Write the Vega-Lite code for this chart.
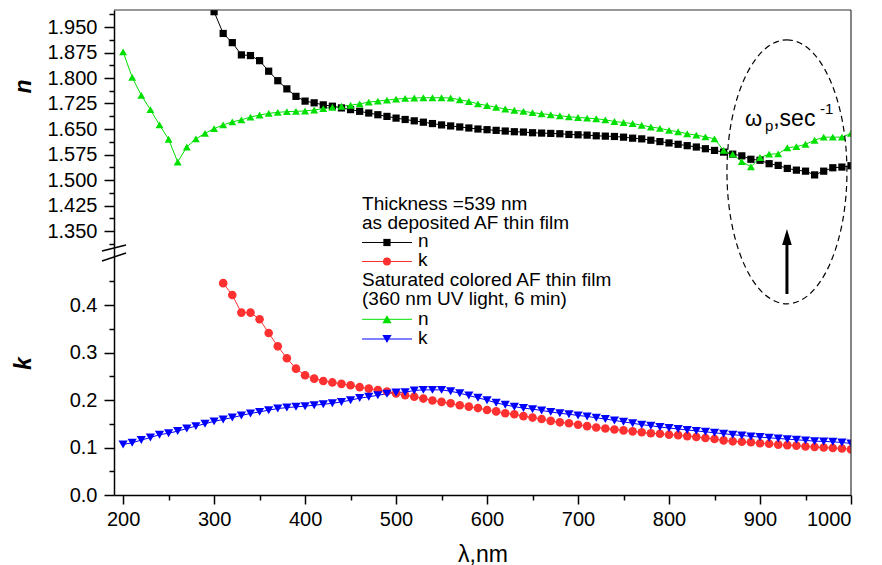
{
"$schema": "https://vega.github.io/schema/vega-lite/v6.json",
"background": "white",
"padding": {"left": 12, "top": 9, "right": 8, "bottom": 2},
"config": {
  "view": {"stroke": null},
  "axis": {"labelFont": "Liberation Sans", "titleFont": "Liberation Sans", "domainColor": "black", "tickColor": "black", "labelColor": "black", "titleColor": "black", "grid": false, "domainWidth": 1.5, "tickWidth": 1.5, "labelFontWeight": "normal"},
  "text": {"font": "Liberation Sans", "color": "black"}
},
"data": {"values": [
{"wl":300,"v":1.995,"s":"n_dep"},{"wl":310,"v":1.931,"s":"n_dep"},{"wl":320,"v":1.904,"s":"n_dep"},{"wl":330,"v":1.868,"s":"n_dep"},{"wl":340,"v":1.866,"s":"n_dep"},{"wl":350,"v":1.851,"s":"n_dep"},{"wl":360,"v":1.820,"s":"n_dep"},{"wl":370,"v":1.792,"s":"n_dep"},{"wl":380,"v":1.768,"s":"n_dep"},{"wl":390,"v":1.746,"s":"n_dep"},
{"wl":400,"v":1.732,"s":"n_dep"},{"wl":410,"v":1.727,"s":"n_dep"},{"wl":420,"v":1.721,"s":"n_dep"},{"wl":430,"v":1.717,"s":"n_dep"},{"wl":440,"v":1.712,"s":"n_dep"},{"wl":450,"v":1.707,"s":"n_dep"},{"wl":460,"v":1.702,"s":"n_dep"},{"wl":470,"v":1.697,"s":"n_dep"},{"wl":480,"v":1.692,"s":"n_dep"},{"wl":490,"v":1.687,"s":"n_dep"},
{"wl":500,"v":1.682,"s":"n_dep"},{"wl":510,"v":1.678,"s":"n_dep"},{"wl":520,"v":1.674,"s":"n_dep"},{"wl":530,"v":1.670,"s":"n_dep"},{"wl":540,"v":1.666,"s":"n_dep"},{"wl":550,"v":1.662,"s":"n_dep"},{"wl":560,"v":1.659,"s":"n_dep"},{"wl":570,"v":1.656,"s":"n_dep"},{"wl":580,"v":1.653,"s":"n_dep"},{"wl":590,"v":1.650,"s":"n_dep"},
{"wl":600,"v":1.648,"s":"n_dep"},{"wl":610,"v":1.646,"s":"n_dep"},{"wl":620,"v":1.644,"s":"n_dep"},{"wl":630,"v":1.642,"s":"n_dep"},{"wl":640,"v":1.641,"s":"n_dep"},{"wl":650,"v":1.639,"s":"n_dep"},{"wl":660,"v":1.638,"s":"n_dep"},{"wl":670,"v":1.637,"s":"n_dep"},{"wl":680,"v":1.636,"s":"n_dep"},{"wl":690,"v":1.634,"s":"n_dep"},
{"wl":700,"v":1.633,"s":"n_dep"},{"wl":710,"v":1.632,"s":"n_dep"},{"wl":720,"v":1.630,"s":"n_dep"},{"wl":730,"v":1.629,"s":"n_dep"},{"wl":740,"v":1.628,"s":"n_dep"},{"wl":750,"v":1.626,"s":"n_dep"},{"wl":760,"v":1.623,"s":"n_dep"},{"wl":770,"v":1.621,"s":"n_dep"},{"wl":780,"v":1.617,"s":"n_dep"},{"wl":790,"v":1.613,"s":"n_dep"},
{"wl":800,"v":1.609,"s":"n_dep"},{"wl":810,"v":1.605,"s":"n_dep"},{"wl":820,"v":1.601,"s":"n_dep"},{"wl":830,"v":1.597,"s":"n_dep"},{"wl":840,"v":1.592,"s":"n_dep"},{"wl":850,"v":1.587,"s":"n_dep"},{"wl":860,"v":1.582,"s":"n_dep"},{"wl":870,"v":1.576,"s":"n_dep"},{"wl":880,"v":1.571,"s":"n_dep"},{"wl":890,"v":1.561,"s":"n_dep"},
{"wl":900,"v":1.558,"s":"n_dep"},{"wl":910,"v":1.548,"s":"n_dep"},{"wl":920,"v":1.543,"s":"n_dep"},{"wl":930,"v":1.534,"s":"n_dep"},{"wl":940,"v":1.529,"s":"n_dep"},{"wl":950,"v":1.526,"s":"n_dep"},{"wl":960,"v":1.515,"s":"n_dep"},{"wl":970,"v":1.526,"s":"n_dep"},{"wl":980,"v":1.536,"s":"n_dep"},{"wl":990,"v":1.538,"s":"n_dep"},{"wl":1000,"v":1.542,"s":"n_dep"},

{"wl":200,"v":1.877,"s":"n_sat"},{"wl":210,"v":1.802,"s":"n_sat"},{"wl":220,"v":1.749,"s":"n_sat"},{"wl":230,"v":1.707,"s":"n_sat"},{"wl":240,"v":1.662,"s":"n_sat"},{"wl":250,"v":1.620,"s":"n_sat"},{"wl":260,"v":1.553,"s":"n_sat"},{"wl":270,"v":1.597,"s":"n_sat"},{"wl":280,"v":1.621,"s":"n_sat"},{"wl":290,"v":1.637,"s":"n_sat"},
{"wl":300,"v":1.651,"s":"n_sat"},{"wl":310,"v":1.662,"s":"n_sat"},{"wl":320,"v":1.671,"s":"n_sat"},{"wl":330,"v":1.677,"s":"n_sat"},{"wl":340,"v":1.685,"s":"n_sat"},{"wl":350,"v":1.691,"s":"n_sat"},{"wl":360,"v":1.696,"s":"n_sat"},{"wl":370,"v":1.699,"s":"n_sat"},{"wl":380,"v":1.701,"s":"n_sat"},{"wl":390,"v":1.702,"s":"n_sat"},
{"wl":400,"v":1.703,"s":"n_sat"},{"wl":410,"v":1.706,"s":"n_sat"},{"wl":420,"v":1.710,"s":"n_sat"},{"wl":430,"v":1.714,"s":"n_sat"},{"wl":440,"v":1.717,"s":"n_sat"},{"wl":450,"v":1.720,"s":"n_sat"},{"wl":460,"v":1.724,"s":"n_sat"},{"wl":470,"v":1.729,"s":"n_sat"},{"wl":480,"v":1.732,"s":"n_sat"},{"wl":490,"v":1.735,"s":"n_sat"},
{"wl":500,"v":1.738,"s":"n_sat"},{"wl":510,"v":1.740,"s":"n_sat"},{"wl":520,"v":1.741,"s":"n_sat"},{"wl":530,"v":1.742,"s":"n_sat"},{"wl":540,"v":1.742,"s":"n_sat"},{"wl":550,"v":1.742,"s":"n_sat"},{"wl":560,"v":1.741,"s":"n_sat"},{"wl":570,"v":1.736,"s":"n_sat"},{"wl":580,"v":1.731,"s":"n_sat"},{"wl":590,"v":1.724,"s":"n_sat"},
{"wl":600,"v":1.719,"s":"n_sat"},{"wl":610,"v":1.714,"s":"n_sat"},{"wl":620,"v":1.709,"s":"n_sat"},{"wl":630,"v":1.705,"s":"n_sat"},{"wl":640,"v":1.702,"s":"n_sat"},{"wl":650,"v":1.698,"s":"n_sat"},{"wl":660,"v":1.695,"s":"n_sat"},{"wl":670,"v":1.692,"s":"n_sat"},{"wl":680,"v":1.689,"s":"n_sat"},{"wl":690,"v":1.686,"s":"n_sat"},
{"wl":700,"v":1.684,"s":"n_sat"},{"wl":710,"v":1.682,"s":"n_sat"},{"wl":720,"v":1.680,"s":"n_sat"},{"wl":730,"v":1.677,"s":"n_sat"},{"wl":740,"v":1.672,"s":"n_sat"},{"wl":750,"v":1.669,"s":"n_sat"},{"wl":760,"v":1.666,"s":"n_sat"},{"wl":770,"v":1.661,"s":"n_sat"},{"wl":780,"v":1.656,"s":"n_sat"},{"wl":790,"v":1.652,"s":"n_sat"},
{"wl":800,"v":1.646,"s":"n_sat"},{"wl":810,"v":1.642,"s":"n_sat"},{"wl":820,"v":1.636,"s":"n_sat"},{"wl":830,"v":1.632,"s":"n_sat"},{"wl":840,"v":1.627,"s":"n_sat"},{"wl":850,"v":1.621,"s":"n_sat"},{"wl":860,"v":1.587,"s":"n_sat"},{"wl":870,"v":1.576,"s":"n_sat"},{"wl":880,"v":1.554,"s":"n_sat"},{"wl":890,"v":1.539,"s":"n_sat"},
{"wl":900,"v":1.566,"s":"n_sat"},{"wl":910,"v":1.576,"s":"n_sat"},{"wl":920,"v":1.577,"s":"n_sat"},{"wl":930,"v":1.595,"s":"n_sat"},{"wl":940,"v":1.598,"s":"n_sat"},{"wl":950,"v":1.605,"s":"n_sat"},{"wl":960,"v":1.617,"s":"n_sat"},{"wl":970,"v":1.626,"s":"n_sat"},{"wl":980,"v":1.626,"s":"n_sat"},{"wl":990,"v":1.626,"s":"n_sat"},{"wl":1000,"v":1.637,"s":"n_sat"},

{"wl":310,"v":0.446,"s":"k_dep"},{"wl":320,"v":0.421,"s":"k_dep"},{"wl":330,"v":0.384,"s":"k_dep"},{"wl":340,"v":0.384,"s":"k_dep"},{"wl":350,"v":0.370,"s":"k_dep"},{"wl":360,"v":0.341,"s":"k_dep"},{"wl":370,"v":0.313,"s":"k_dep"},{"wl":380,"v":0.288,"s":"k_dep"},{"wl":390,"v":0.266,"s":"k_dep"},
{"wl":400,"v":0.252,"s":"k_dep"},{"wl":410,"v":0.245,"s":"k_dep"},{"wl":420,"v":0.240,"s":"k_dep"},{"wl":430,"v":0.237,"s":"k_dep"},{"wl":440,"v":0.234,"s":"k_dep"},{"wl":450,"v":0.231,"s":"k_dep"},{"wl":460,"v":0.227,"s":"k_dep"},{"wl":470,"v":0.224,"s":"k_dep"},{"wl":480,"v":0.221,"s":"k_dep"},{"wl":490,"v":0.218,"s":"k_dep"},
{"wl":500,"v":0.214,"s":"k_dep"},{"wl":510,"v":0.210,"s":"k_dep"},{"wl":520,"v":0.207,"s":"k_dep"},{"wl":530,"v":0.203,"s":"k_dep"},{"wl":540,"v":0.199,"s":"k_dep"},{"wl":550,"v":0.196,"s":"k_dep"},{"wl":560,"v":0.193,"s":"k_dep"},{"wl":570,"v":0.189,"s":"k_dep"},{"wl":580,"v":0.186,"s":"k_dep"},{"wl":590,"v":0.183,"s":"k_dep"},
{"wl":600,"v":0.179,"s":"k_dep"},{"wl":610,"v":0.176,"s":"k_dep"},{"wl":620,"v":0.172,"s":"k_dep"},{"wl":630,"v":0.170,"s":"k_dep"},{"wl":640,"v":0.166,"s":"k_dep"},{"wl":650,"v":0.163,"s":"k_dep"},{"wl":660,"v":0.160,"s":"k_dep"},{"wl":670,"v":0.156,"s":"k_dep"},{"wl":680,"v":0.153,"s":"k_dep"},{"wl":690,"v":0.151,"s":"k_dep"},
{"wl":700,"v":0.148,"s":"k_dep"},{"wl":710,"v":0.145,"s":"k_dep"},{"wl":720,"v":0.142,"s":"k_dep"},{"wl":730,"v":0.140,"s":"k_dep"},{"wl":740,"v":0.138,"s":"k_dep"},{"wl":750,"v":0.136,"s":"k_dep"},{"wl":760,"v":0.134,"s":"k_dep"},{"wl":770,"v":0.132,"s":"k_dep"},{"wl":780,"v":0.130,"s":"k_dep"},{"wl":790,"v":0.129,"s":"k_dep"},
{"wl":800,"v":0.127,"s":"k_dep"},{"wl":810,"v":0.126,"s":"k_dep"},{"wl":820,"v":0.124,"s":"k_dep"},{"wl":830,"v":0.122,"s":"k_dep"},{"wl":840,"v":0.120,"s":"k_dep"},{"wl":850,"v":0.118,"s":"k_dep"},{"wl":860,"v":0.115,"s":"k_dep"},{"wl":870,"v":0.113,"s":"k_dep"},{"wl":880,"v":0.112,"s":"k_dep"},{"wl":890,"v":0.111,"s":"k_dep"},
{"wl":900,"v":0.109,"s":"k_dep"},{"wl":910,"v":0.108,"s":"k_dep"},{"wl":920,"v":0.106,"s":"k_dep"},{"wl":930,"v":0.105,"s":"k_dep"},{"wl":940,"v":0.104,"s":"k_dep"},{"wl":950,"v":0.102,"s":"k_dep"},{"wl":960,"v":0.101,"s":"k_dep"},{"wl":970,"v":0.100,"s":"k_dep"},{"wl":980,"v":0.099,"s":"k_dep"},{"wl":990,"v":0.098,"s":"k_dep"},{"wl":1000,"v":0.096,"s":"k_dep"},

{"wl":200,"v":0.1065,"s":"k_sat"},{"wl":210,"v":0.110,"s":"k_sat"},{"wl":220,"v":0.1156,"s":"k_sat"},{"wl":230,"v":0.121,"s":"k_sat"},{"wl":240,"v":0.127,"s":"k_sat"},{"wl":250,"v":0.130,"s":"k_sat"},{"wl":260,"v":0.1345,"s":"k_sat"},{"wl":270,"v":0.140,"s":"k_sat"},{"wl":280,"v":0.145,"s":"k_sat"},{"wl":290,"v":0.150,"s":"k_sat"},
{"wl":300,"v":0.155,"s":"k_sat"},{"wl":310,"v":0.159,"s":"k_sat"},{"wl":320,"v":0.163,"s":"k_sat"},{"wl":330,"v":0.1675,"s":"k_sat"},{"wl":340,"v":0.1717,"s":"k_sat"},{"wl":350,"v":0.175,"s":"k_sat"},{"wl":360,"v":0.1786,"s":"k_sat"},{"wl":370,"v":0.182,"s":"k_sat"},{"wl":380,"v":0.184,"s":"k_sat"},{"wl":390,"v":0.1856,"s":"k_sat"},
{"wl":400,"v":0.187,"s":"k_sat"},{"wl":410,"v":0.189,"s":"k_sat"},{"wl":420,"v":0.191,"s":"k_sat"},{"wl":430,"v":0.193,"s":"k_sat"},{"wl":440,"v":0.196,"s":"k_sat"},{"wl":450,"v":0.1997,"s":"k_sat"},{"wl":460,"v":0.204,"s":"k_sat"},{"wl":470,"v":0.2066,"s":"k_sat"},{"wl":480,"v":0.210,"s":"k_sat"},{"wl":490,"v":0.213,"s":"k_sat"},
{"wl":500,"v":0.216,"s":"k_sat"},{"wl":510,"v":0.2165,"s":"k_sat"},{"wl":520,"v":0.220,"s":"k_sat"},{"wl":530,"v":0.2213,"s":"k_sat"},{"wl":540,"v":0.2213,"s":"k_sat"},{"wl":550,"v":0.2213,"s":"k_sat"},{"wl":560,"v":0.2185,"s":"k_sat"},{"wl":570,"v":0.2143,"s":"k_sat"},{"wl":580,"v":0.2094,"s":"k_sat"},{"wl":590,"v":0.2045,"s":"k_sat"},
{"wl":600,"v":0.1997,"s":"k_sat"},{"wl":610,"v":0.194,"s":"k_sat"},{"wl":620,"v":0.1898,"s":"k_sat"},{"wl":630,"v":0.186,"s":"k_sat"},{"wl":640,"v":0.183,"s":"k_sat"},{"wl":650,"v":0.1807,"s":"k_sat"},{"wl":660,"v":0.178,"s":"k_sat"},{"wl":670,"v":0.175,"s":"k_sat"},{"wl":680,"v":0.172,"s":"k_sat"},{"wl":690,"v":0.170,"s":"k_sat"},
{"wl":700,"v":0.1675,"s":"k_sat"},{"wl":710,"v":0.1654,"s":"k_sat"},{"wl":720,"v":0.1625,"s":"k_sat"},{"wl":730,"v":0.160,"s":"k_sat"},{"wl":740,"v":0.157,"s":"k_sat"},{"wl":750,"v":0.154,"s":"k_sat"},{"wl":760,"v":0.151,"s":"k_sat"},{"wl":770,"v":0.148,"s":"k_sat"},{"wl":780,"v":0.146,"s":"k_sat"},{"wl":790,"v":0.143,"s":"k_sat"},
{"wl":800,"v":0.141,"s":"k_sat"},{"wl":810,"v":0.139,"s":"k_sat"},{"wl":820,"v":0.137,"s":"k_sat"},{"wl":830,"v":0.135,"s":"k_sat"},{"wl":840,"v":0.133,"s":"k_sat"},{"wl":850,"v":0.131,"s":"k_sat"},{"wl":860,"v":0.129,"s":"k_sat"},{"wl":870,"v":0.127,"s":"k_sat"},{"wl":880,"v":0.1254,"s":"k_sat"},{"wl":890,"v":0.1233,"s":"k_sat"},
{"wl":900,"v":0.122,"s":"k_sat"},{"wl":910,"v":0.1204,"s":"k_sat"},{"wl":920,"v":0.119,"s":"k_sat"},{"wl":930,"v":0.1176,"s":"k_sat"},{"wl":940,"v":0.1162,"s":"k_sat"},{"wl":950,"v":0.115,"s":"k_sat"},{"wl":960,"v":0.1134,"s":"k_sat"},{"wl":970,"v":0.1127,"s":"k_sat"},{"wl":980,"v":0.112,"s":"k_sat"},{"wl":990,"v":0.1106,"s":"k_sat"},{"wl":1000,"v":0.1085,"s":"k_sat"}
]},
"spacing": 0,
"bounds": "flush",
"resolve": {"scale": {"y": "independent"}},
"vconcat": [
{
  "width": 737,
  "height": 238,
  "resolve": {"axis": {"x": "independent", "y": "independent"}},
  "layer": [
    {
      "transform": [{"filter": "datum.s == 'n_dep' || datum.s == 'n_sat'"}],
      "mark": {"type": "line", "strokeWidth": 1, "clip": true},
      "encoding": {
        "x": {"field": "wl", "type": "quantitative", "scale": {"domain": [190, 1000], "nice": false, "zero": false}, "axis": null},
        "y": {"field": "v", "type": "quantitative", "scale": {"domain": [1.3, 2.0], "nice": false, "zero": false},
              "axis": {"orient": "left", "values": [1.35, 1.425, 1.5, 1.575, 1.65, 1.725, 1.8, 1.875, 1.95], "format": ".3f", "tickSize": 10, "labelFontSize": 20, "labelPadding": 7, "title": "n", "titleFontSize": 23, "titleFontWeight": "bold", "titleFontStyle": "italic", "titleBaseline": "alphabetic", "titleX": -84, "titleY": 76, "titleAngle": 270}},
        "color": {"field": "s", "type": "nominal", "scale": {"domain": ["n_dep", "n_sat", "k_dep", "k_sat"], "range": ["#000000", "#00e000", "#ff3030", "#0000ff"]}, "legend": null}
      }
    },
    {
      "transform": [{"filter": "datum.s == 'n_dep' || datum.s == 'n_sat'"}],
      "mark": {"type": "point", "filled": true, "opacity": 1, "strokeWidth": 0, "clip": true},
      "encoding": {
        "x": {"field": "wl", "type": "quantitative", "scale": {"domain": [190, 1000], "nice": false, "zero": false}, "axis": null},
        "y": {"field": "v", "type": "quantitative",
              "axis": {"orient": "left", "values": [1.3125, 1.3875, 1.4625, 1.5375, 1.6125, 1.6875, 1.7625, 1.8375, 1.9125, 1.9875], "labels": false, "tickSize": 5, "domain": false, "title": null}},
        "color": {"field": "s", "type": "nominal", "legend": null},
        "shape": {"field": "s", "type": "nominal", "scale": {"domain": ["n_dep", "n_sat", "k_dep", "k_sat"], "range": ["square", "triangle-up", "circle", "triangle-down"]}, "legend": null},
        "size": {"field": "s", "type": "nominal", "scale": {"domain": ["n_dep", "n_sat", "k_dep", "k_sat"], "range": [52, 85, 64, 85]}, "legend": null}
      }
    },
    {
      "data": {"values": [{}]},
      "mark": {"type": "rule", "color": "#333333", "strokeWidth": 1.2},
      "encoding": {"y": {"datum": 2.0, "type": "quantitative", "axis": null}}
    },
    {
      "data": {"values": [{}]},
      "mark": {"type": "rule", "color": "#333333", "strokeWidth": 1.2},
      "encoding": {"x": {"datum": 1000, "type": "quantitative", "axis": null}}
    },
    {
      "data": {"values": [{}]},
      "mark": {"type": "point", "shape": "M0,-1C0.251,-1,0.4545,-0.5523,0.4545,0C0.4545,0.5523,0.251,1,0,1C-0.251,1,-0.4545,0.5523,-0.4545,0C-0.4545,-0.5523,-0.251,-1,0,-1Z", "filled": false, "stroke": "black", "strokeWidth": 1.2, "strokeDash": [6, 4], "size": 69696, "opacity": 1},
      "encoding": {"x": {"datum": 929.6, "type": "quantitative", "axis": null}, "y": {"datum": 1.524, "type": "quantitative", "axis": null}}
    },
    {
      "data": {"values": [{}]},
      "mark": {"type": "text", "text": "ω", "fontSize": 22, "align": "left", "baseline": "alphabetic"},
      "encoding": {"x": {"datum": 883.5, "type": "quantitative", "axis": null}, "y": {"datum": 1.6593, "type": "quantitative", "axis": null}}
    },
    {
      "data": {"values": [{}]},
      "mark": {"type": "text", "text": "p", "fontSize": 15, "align": "left", "baseline": "alphabetic"},
      "encoding": {"x": {"datum": 905.5, "type": "quantitative", "axis": null}, "y": {"datum": 1.6447, "type": "quantitative", "axis": null}}
    },
    {
      "data": {"values": [{}]},
      "mark": {"type": "text", "text": ",sec", "fontSize": 23, "align": "left", "baseline": "alphabetic"},
      "encoding": {"x": {"datum": 914.5, "type": "quantitative", "axis": null}, "y": {"datum": 1.6593, "type": "quantitative", "axis": null}}
    },
    {
      "data": {"values": [{}]},
      "mark": {"type": "text", "text": "-1", "fontSize": 15, "align": "left", "baseline": "alphabetic"},
      "encoding": {"x": {"datum": 966, "type": "quantitative", "axis": null}, "y": {"datum": 1.6947, "type": "quantitative", "axis": null}}
    }
  ]
},
{
  "width": 737,
  "height": 247,
  "resolve": {"axis": {"x": "independent", "y": "independent"}},
  "layer": [
    {
      "transform": [{"filter": "datum.s == 'k_dep' || datum.s == 'k_sat'"}],
      "mark": {"type": "line", "strokeWidth": 1, "clip": true},
      "encoding": {
        "x": {"field": "wl", "type": "quantitative", "scale": {"domain": [190, 1000], "nice": false, "zero": false},
              "axis": {"orient": "bottom", "values": [200, 300, 400, 500, 600, 700, 800, 900, 1000], "format": "d", "tickSize": 9, "labelFontSize": 20, "labelPadding": 5, "title": "λ,nm", "titleFontSize": 23, "titleFontWeight": "normal", "titleBaseline": "alphabetic", "titleY": 66}},
        "y": {"field": "v", "type": "quantitative", "scale": {"domain": [0, 0.52], "nice": false, "zero": false},
              "axis": {"orient": "left", "values": [0, 0.1, 0.2, 0.3, 0.4], "format": ".1f", "tickSize": 10, "labelFontSize": 20, "labelPadding": 7, "title": "k", "titleFontSize": 23, "titleFontWeight": "bold", "titleFontStyle": "italic", "titleBaseline": "alphabetic", "titleX": -84, "titleY": 115, "titleAngle": 270}},
        "color": {"field": "s", "type": "nominal", "scale": {"domain": ["n_dep", "n_sat", "k_dep", "k_sat"], "range": ["#000000", "#00e000", "#ff3030", "#0000ff"]}, "legend": null}
      }
    },
    {
      "transform": [{"filter": "datum.s == 'k_dep' || datum.s == 'k_sat'"}],
      "mark": {"type": "point", "filled": true, "opacity": 1, "strokeWidth": 0, "clip": true},
      "encoding": {
        "x": {"field": "wl", "type": "quantitative",
              "axis": {"orient": "bottom", "values": [250, 350, 450, 550, 650, 750, 850, 950], "labels": false, "tickSize": 5, "domain": false, "title": null}},
        "y": {"field": "v", "type": "quantitative",
              "axis": {"orient": "left", "values": [0.05, 0.15, 0.25, 0.35, 0.45], "labels": false, "tickSize": 5, "domain": false, "title": null}},
        "color": {"field": "s", "type": "nominal", "legend": null},
        "shape": {"field": "s", "type": "nominal", "scale": {"domain": ["n_dep", "n_sat", "k_dep", "k_sat"], "range": ["square", "triangle-up", "circle", "triangle-down"]}, "legend": null},
        "size": {"field": "s", "type": "nominal", "scale": {"domain": ["n_dep", "n_sat", "k_dep", "k_sat"], "range": [52, 85, 64, 85]}, "legend": null}
      }
    },
    {
      "data": {"values": [{}]},
      "mark": {"type": "rule", "color": "#333333", "strokeWidth": 1.2},
      "encoding": {"x": {"datum": 1000, "type": "quantitative", "axis": null}}
    },
    {
      "data": {"values": [{}]},
      "mark": {"type": "rule", "color": "black", "strokeWidth": 1.5},
      "encoding": {"x": {"datum": 176.8, "type": "quantitative", "axis": null}, "x2": {"datum": 203.2}, "y": {"datum": 0.5137, "type": "quantitative", "axis": null}, "y2": {"datum": 0.5263}}
    },
    {
      "data": {"values": [{}]},
      "mark": {"type": "rule", "color": "black", "strokeWidth": 1.5},
      "encoding": {"x": {"datum": 176.8, "type": "quantitative", "axis": null}, "x2": {"datum": 203.2}, "y": {"datum": 0.4926, "type": "quantitative", "axis": null}, "y2": {"datum": 0.5095}}
    },
    {
      "data": {"values": [{}]},
      "mark": {"type": "rule", "color": "black", "strokeWidth": 3},
      "encoding": {"x": {"datum": 929.6, "type": "quantitative", "axis": null}, "y": {"datum": 0.4232, "type": "quantitative", "axis": null}, "y2": {"datum": 0.535}}
    },
    {
      "data": {"values": [{}]},
      "mark": {"type": "point", "shape": "M0,-1L0.6,1L-0.6,1Z", "filled": true, "color": "black", "size": 256, "opacity": 1, "strokeWidth": 0},
      "encoding": {"x": {"datum": 929.6, "type": "quantitative", "axis": null}, "y": {"datum": 0.543, "type": "quantitative", "axis": null}}
    },
    {
      "data": {"values": [{}]},
      "mark": {"type": "text", "text": "Thickness =539 nm", "fontSize": 19, "align": "left", "baseline": "alphabetic"},
      "encoding": {"x": {"datum": 462.6, "type": "quantitative", "axis": null}, "y": {"datum": 0.5994, "type": "quantitative", "axis": null}}
    },
    {
      "data": {"values": [{}]},
      "mark": {"type": "text", "text": "as deposited AF thin film", "fontSize": 19, "align": "left", "baseline": "alphabetic"},
      "encoding": {"x": {"datum": 462.6, "type": "quantitative", "axis": null}, "y": {"datum": 0.5594, "type": "quantitative", "axis": null}}
    },
    {
      "data": {"values": [{}]},
      "mark": {"type": "text", "text": "Saturated colored AF thin film", "fontSize": 19, "align": "left", "baseline": "alphabetic"},
      "encoding": {"x": {"datum": 462.6, "type": "quantitative", "axis": null}, "y": {"datum": 0.4394, "type": "quantitative", "axis": null}}
    },
    {
      "data": {"values": [{}]},
      "mark": {"type": "text", "text": "(360 nm UV light, 6 min)", "fontSize": 19, "align": "left", "baseline": "alphabetic"},
      "encoding": {"x": {"datum": 462.6, "type": "quantitative", "axis": null}, "y": {"datum": 0.3994, "type": "quantitative", "axis": null}}
    },
    {
      "data": {"values": [{}]},
      "mark": {"type": "rule", "color": "#000000", "strokeWidth": 1},
      "encoding": {"x": {"datum": 462.6, "type": "quantitative", "axis": null}, "x2": {"datum": 517.5}, "y": {"datum": 0.5316, "type": "quantitative", "axis": null}}
    },
    {
      "data": {"values": [{}]},
      "mark": {"type": "rule", "color": "#ff3030", "strokeWidth": 1},
      "encoding": {"x": {"datum": 462.6, "type": "quantitative", "axis": null}, "x2": {"datum": 517.5}, "y": {"datum": 0.4916, "type": "quantitative", "axis": null}}
    },
    {
      "data": {"values": [{}]},
      "mark": {"type": "rule", "color": "#00e000", "strokeWidth": 1},
      "encoding": {"x": {"datum": 462.6, "type": "quantitative", "axis": null}, "x2": {"datum": 517.5}, "y": {"datum": 0.3699, "type": "quantitative", "axis": null}}
    },
    {
      "data": {"values": [{}]},
      "mark": {"type": "rule", "color": "#0000ff", "strokeWidth": 1},
      "encoding": {"x": {"datum": 462.6, "type": "quantitative", "axis": null}, "x2": {"datum": 517.5}, "y": {"datum": 0.3284, "type": "quantitative", "axis": null}}
    },
    {
      "data": {"values": [{}]},
      "mark": {"type": "point", "shape": "square", "filled": true, "color": "#000000", "size": 52, "opacity": 1, "strokeWidth": 0},
      "encoding": {"x": {"datum": 490, "type": "quantitative", "axis": null}, "y": {"datum": 0.5316, "type": "quantitative", "axis": null}}
    },
    {
      "data": {"values": [{}]},
      "mark": {"type": "point", "shape": "circle", "filled": true, "color": "#ff3030", "size": 64, "opacity": 1, "strokeWidth": 0},
      "encoding": {"x": {"datum": 490, "type": "quantitative", "axis": null}, "y": {"datum": 0.4916, "type": "quantitative", "axis": null}}
    },
    {
      "data": {"values": [{}]},
      "mark": {"type": "point", "shape": "triangle-up", "filled": true, "color": "#00e000", "size": 85, "opacity": 1, "strokeWidth": 0},
      "encoding": {"x": {"datum": 490, "type": "quantitative", "axis": null}, "y": {"datum": 0.3699, "type": "quantitative", "axis": null}}
    },
    {
      "data": {"values": [{}]},
      "mark": {"type": "point", "shape": "triangle-down", "filled": true, "color": "#0000ff", "size": 85, "opacity": 1, "strokeWidth": 0},
      "encoding": {"x": {"datum": 490, "type": "quantitative", "axis": null}, "y": {"datum": 0.3284, "type": "quantitative", "axis": null}}
    },
    {
      "data": {"values": [{}]},
      "mark": {"type": "text", "text": "n", "fontSize": 19, "align": "left", "baseline": "alphabetic"},
      "encoding": {"x": {"datum": 524.1, "type": "quantitative", "axis": null}, "y": {"datum": 0.5211, "type": "quantitative", "axis": null}}
    },
    {
      "data": {"values": [{}]},
      "mark": {"type": "text", "text": "k", "fontSize": 19, "align": "left", "baseline": "alphabetic"},
      "encoding": {"x": {"datum": 524.1, "type": "quantitative", "axis": null}, "y": {"datum": 0.4811, "type": "quantitative", "axis": null}}
    },
    {
      "data": {"values": [{}]},
      "mark": {"type": "text", "text": "n", "fontSize": 19, "align": "left", "baseline": "alphabetic"},
      "encoding": {"x": {"datum": 524.1, "type": "quantitative", "axis": null}, "y": {"datum": 0.3589, "type": "quantitative", "axis": null}}
    },
    {
      "data": {"values": [{}]},
      "mark": {"type": "text", "text": "k", "fontSize": 19, "align": "left", "baseline": "alphabetic"},
      "encoding": {"x": {"datum": 524.1, "type": "quantitative", "axis": null}, "y": {"datum": 0.3179, "type": "quantitative", "axis": null}}
    }
  ]
}
]
}
